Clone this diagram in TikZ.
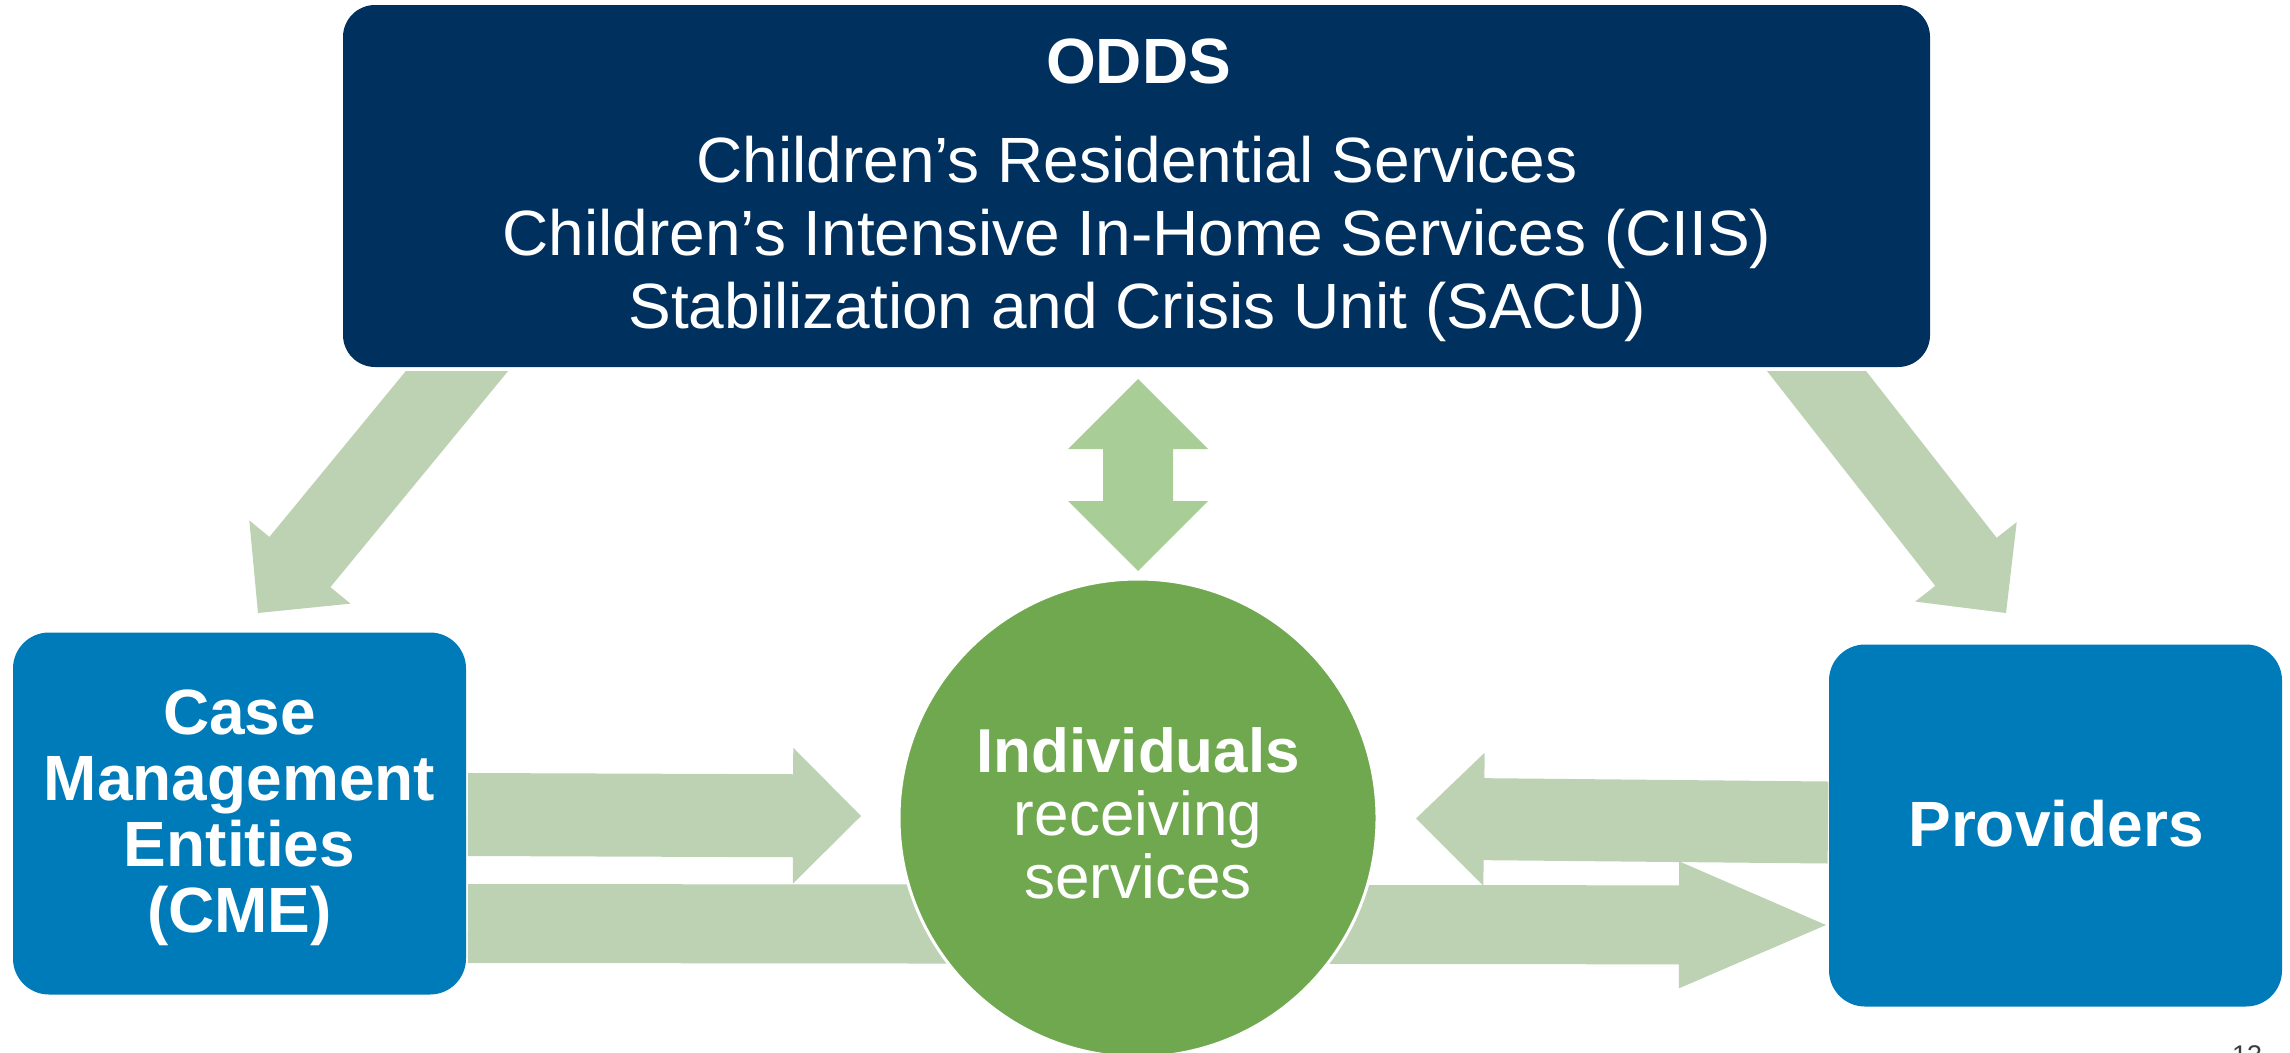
\documentclass[tikz,border=0pt]{standalone}
\usepackage{fontspec}
\setmainfont{Liberation Sans}
\usetikzlibrary{calc}

\definecolor{oddsnavy}{RGB}{0,48,94}
\definecolor{entityblue}{RGB}{0,123,186}
\definecolor{circlegreen}{RGB}{112,168,80}
\definecolor{flowgreen}{RGB}{188,210,179}
\definecolor{linkgreen}{RGB}{169,205,150}
\definecolor{pagegray}{RGB}{60,60,60}

% Block arrow: [style]{tail}{tip}{shaft half width}{head half width}{head length}
\newcommand\blockarrow[6][]{%
  \coordinate (ba-base) at ($(#3)!#6!(#2)$);
  \fill[#1] ($(#2)!#4!90:(#3)$) -- ($(ba-base)!#4!90:(#3)$)
    -- ($(ba-base)!#5!90:(#3)$) -- (#3) -- ($(ba-base)!#5!-90:(#3)$)
    -- ($(ba-base)!#4!-90:(#3)$) -- ($(#2)!#4!-90:(#3)$) -- cycle;
}
% Two-way block arrow: [style]{end a}{end b}{shaft half width}{head half width}{head length}
\newcommand\twowayarrow[6][]{%
  \coordinate (tw-a) at ($(#2)!#6!(#3)$);
  \coordinate (tw-b) at ($(#3)!#6!(#2)$);
  \fill[#1] (#2) -- ($(tw-a)!#5!90:(#3)$) -- ($(tw-a)!#4!90:(#3)$)
    -- ($(tw-b)!#4!-90:(#2)$) -- ($(tw-b)!#5!-90:(#2)$) -- (#3)
    -- ($(tw-b)!#5!90:(#2)$) -- ($(tw-b)!#4!90:(#2)$)
    -- ($(tw-a)!#4!-90:(#3)$) -- ($(tw-a)!#5!-90:(#3)$) -- cycle;
}

\begin{document}
\begin{tikzpicture}[x=1pt,y=-1pt,
  agency/.style={fill=oddsnavy, rounded corners=32pt, inner sep=0pt,
    minimum width=1587pt, minimum height=362pt},
  entity/.style={fill=entityblue, rounded corners=36pt, inner sep=0pt,
    minimum width=453pt, minimum height=362pt},
  person/.style={circle, fill=circlegreen, draw=white, line width=3pt,
    inner sep=0pt, minimum size=478pt},
  boldlabel/.style={text=white, align=center, inner sep=0pt,
    font=\bfseries\fontsize{64}{66}\selectfont},
  plainlabel/.style={text=white, align=center, inner sep=0pt,
    font=\fontsize{64}{73}\selectfont},
  flow/.style={fill=flowgreen},
  link/.style={fill=linkgreen}]

\useasboundingbox (0,0) rectangle (2290,1052);

% organisation boxes
\node[agency] (odds) at (1136.5,186) {};
\node[entity] (cme)  at (239.5,813.5) {};
\node[entity] (prov) at (2055.5,825.5) {};

% diagonal arrows from ODDS, cut level just below the box
\coordinate (oddsL) at (507.8,309.2);
\coordinate (cmeIn) at (258,613);
\coordinate (oddsR) at (1767.2,308);
\coordinate (provIn) at (2006,613);
\begin{scope}
  \clip (0,371) rectangle (2290,1052);
  \blockarrow[flow]{oddsL}{cmeIn}{39.5pt}{65.5pt}{66pt}
  \blockarrow[flow]{oddsR}{provIn}{39pt}{64.5pt}{65pt}
\end{scope}

% two-way link between ODDS and the individuals
\coordinate (linkTop) at (1138,379);
\coordinate (linkBot) at (1138,571);
\twowayarrow[link]{linkTop}{linkBot}{35pt}{70pt}{70pt}

% horizontal flows
\coordinate (cmeOut)  at (468,814.5);
\coordinate (indL)    at (861,816);
\blockarrow[flow]{cmeOut}{indL}{41.5pt}{68pt}{68pt}

\coordinate (provOut) at (1828,822.5);
\coordinate (indR)    at (1416,818.5);
\blockarrow[flow]{provOut}{indR}{41pt}{66.5pt}{68pt}

\coordinate (cmeLow)  at (468,923.5);
\coordinate (provLow) at (1826,925);
\blockarrow[flow]{cmeLow}{provLow}{39.5pt}{63.5pt}{147pt}

% individuals
\node[person] (ind) at (1138,818) {};

% labels
\node[boldlabel, anchor=base] (oddstitle) at (1138.5,83) {ODDS};
\node[plainlabel] (oddslist) at (1137,238.8) {Children’s Residential Services\\
  Children’s Intensive In-Home Services (CIIS)\\
  Stabilization and Crisis Unit (SACU)};
\node[boldlabel] (cmetext) at (239.5,817.8) {Case\\Management\\Entities\\(CME)};
\node[boldlabel, anchor=base] (provtext) at (2056,846) {Providers};
\node[text=white, align=center, inner sep=0pt,
  font=\fontsize{62}{63}\selectfont] (indtext) at (1138,813.3)
  {{\bfseries Individuals}\\receiving\\services};

% page number
\node[anchor=base, inner sep=0pt, text=pagegray,
  font=\fontsize{27}{30}\selectfont] (pagenum) at (2247,1064) {13};
\end{tikzpicture}
\end{document}
